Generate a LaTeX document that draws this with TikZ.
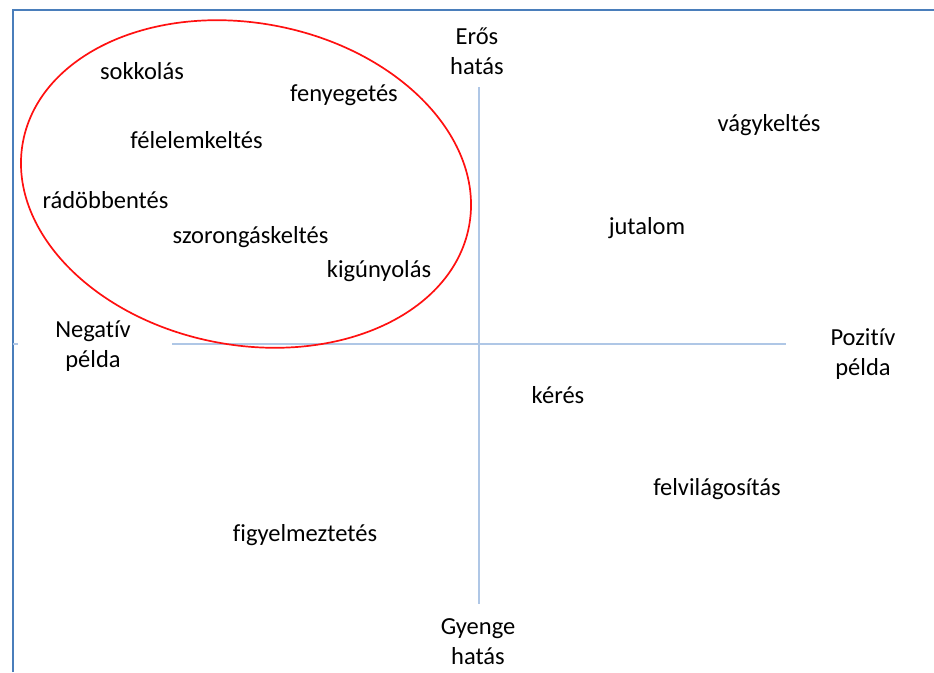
\documentclass[tikz,border=0pt]{standalone}
\usepackage{fontspec}
\setmainfont{Carlito}[Ligatures={NoCommon}]
\definecolor{frameblue}{HTML}{4A7EBB}
\definecolor{axisblue}{HTML}{AFC7E6}
\definecolor{ovalred}{HTML}{FF1010}
\begin{document}
\begin{tikzpicture}[x=1pt,y=-1pt,
  lbl/.style={anchor=base,inner sep=0pt,font=\fontsize{24.5}{30}\selectfont,align=center},
  axis/.style={draw=axisblue,line width=1.2pt},
  frameline/.style={draw=frameblue,line width=1.6pt}]
\useasboundingbox (0,0) rectangle (934,672);
% frame of the chart area
\draw[frameline] (13,672) -- (13,10) -- (934,10);
\draw[axisblue,line width=1.2pt] (13,344) -- (18,344);
% axes
\coordinate (xl) at (172,344);
\coordinate (xr) at (786,344);
\coordinate (yt) at (479,87);
\coordinate (yb) at (479,604);
\draw[axis] (xl) -- (xr);
\draw[axis] (yt) -- (yb);
% axis end labels (base anchor sits on the last line)
\node[lbl] (eros) at (477,74) {Erős\\hatás};
\node[lbl] (gyenge) at (478,664) {Gyenge\\hatás};
\node[lbl] (neg) at (93,367) {Negatív\\példa};
\node[lbl] (poz) at (863,375) {Pozitív\\példa};
% methods
\node[lbl] (sokk) at (142,79) {sokkolás};
\node[lbl] (feny) at (344,101) {fenyegetés};
\node[lbl] (fele) at (196.5,148) {félelemkeltés};
\node[lbl] (rado) at (105.5,208) {rádöbbentés};
\node[lbl] (szor) at (250.5,243) {szorongáskeltés};
\node[lbl] (kigu) at (379,277) {kigúnyolás};
\node[lbl] (vagy) at (769,131) {vágykeltés};
\node[lbl] (juta) at (647,234) {jutalom};
\node[lbl] (keres) at (558,403) {kérés};
\node[lbl] (felv) at (717,495) {felvilágosítás};
\node[lbl] (figy) at (305,541) {figyelmeztetés};
% grouping of the negative, strong-effect methods
\draw[ovalred,line width=1.7pt,rotate around={-10.8:(246,184)}] (246,184) ellipse [x radius=227, y radius=161];
\end{tikzpicture}
\end{document}
